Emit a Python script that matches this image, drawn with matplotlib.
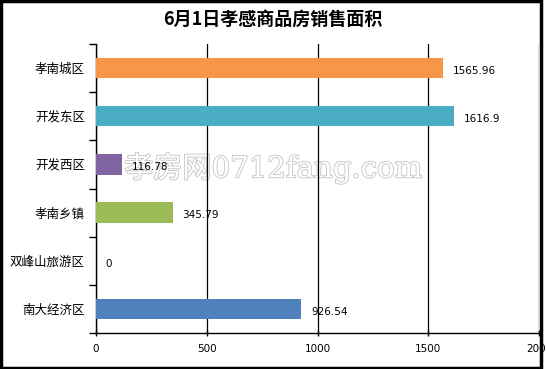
import numpy as np
import matplotlib.pyplot as plt
import matplotlib.patheffects as pe
from matplotlib.patches import Rectangle

plt.rcParams['font.family'] = ['Noto Sans CJK SC', 'DejaVu Sans']

# data
districts = ['孝南城区', '开发东区', '开发西区', '孝南乡镇', '双峰山旅游区', '南大经济区']
areas = [1565.96, 1616.9, 116.78, 345.79, 0, 926.54]
labels = ['1565.96', '1616.9', '116.78', '345.79', '0', '926.54']
colors = ['#F79646', '#4BACC6', '#8064A2', '#9BBB59', '#4F81BD', '#4F81BD']
xticks = [0, 500, 1000, 1500, 2000]

fig = plt.figure(figsize=(5.46, 3.69), dpi=100)
ax = fig.add_axes([96/546, 1 - 333/369, 443/546, 289/369])

y = np.arange(len(districts))
ax.barh(y, areas, height=0.42, color=colors, zorder=3)

for yi, v, lab in zip(y, areas, labels):
    ax.annotate(lab, (v, yi), xytext=(7, -2), textcoords='offset points',
                ha='left', va='center', fontsize=7.5, family='DejaVu Sans', zorder=4)

ax.set_xlim(0, 2000)
ax.set_ylim(-0.5, len(districts) - 0.5)
ax.invert_yaxis()
ax.set_xticks(xticks)
ax.set_xticklabels([str(t) for t in xticks], fontsize=7.5, family='DejaVu Sans')
ax.set_yticks(y)
ax.set_yticklabels(districts, fontsize=9)
ax.set_yticks(np.arange(-0.5, len(districts)), minor=True)
ax.tick_params(axis='y', which='major', length=0, pad=8)
ax.tick_params(axis='y', which='minor', length=5, width=1, direction='out')
ax.tick_params(axis='x', length=4, width=1, direction='inout', pad=6)
ax.set_axisbelow(False)
ax.xaxis.grid(True, color='black', linewidth=0.9)
for gl in ax.get_xgridlines():
    gl.set_zorder(1)
for s in ['top', 'right']:
    ax.spines[s].set_visible(False)
ax.spines['left'].set_linewidth(1)
ax.spines['bottom'].set_linewidth(1)

# watermark, under the grid and labels
ax.text(0.5, 0.545, '孝房网0712fang.com', fontsize=21, color='white', ha='center', va='center',
        family=['DejaVu Serif', 'Noto Sans CJK SC'], zorder=0.5, transform=fig.transFigure,
        path_effects=[pe.withStroke(linewidth=1.3, foreground='#c8c8c8')])

fig.suptitle('6月1日孝感商品房销售面积', fontsize=13, fontweight='bold', y=0.975)

# figure frame
fig.patches.append(Rectangle((0.001, 0.004), 0.99, 0.994, transform=fig.transFigure,
                             fill=False, edgecolor='black', linewidth=2.5))

fig.savefig('out.png', dpi=100)
